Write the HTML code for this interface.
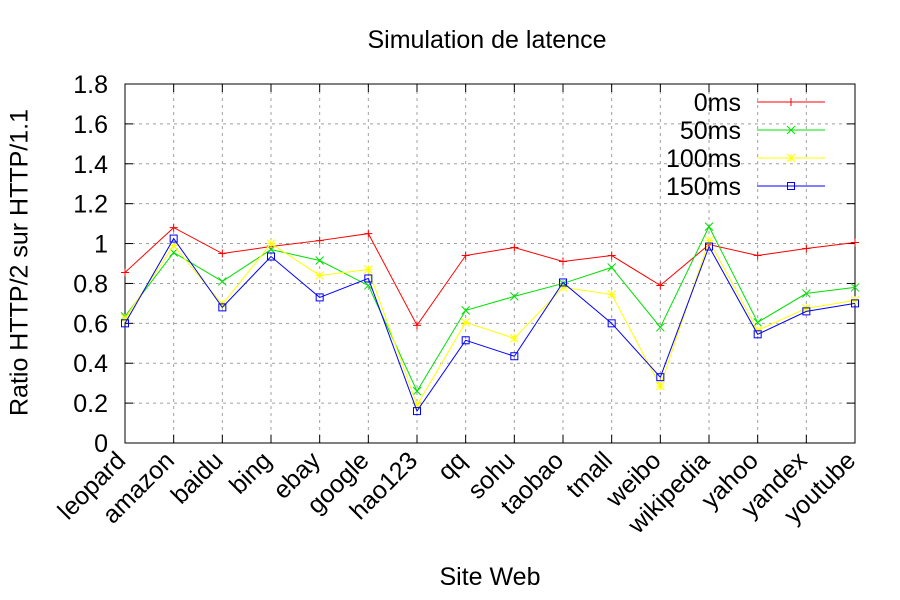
<!DOCTYPE html>
<html><head><meta charset="utf-8"><style>body{margin:0;background:#fff}svg{display:block;font-family:"Liberation Sans",sans-serif}</style></head>
<body>
<svg id="c" width="900" height="600"></svg>
<script>
const categories=["leopard","amazon","baidu","bing","ebay","google","hao123","qq","sohu","taobao","tmall","weibo","wikipedia","yahoo","yandex","youtube"];
const s0=[0.855,1.08,0.95,0.985,1.015,1.05,0.59,0.94,0.98,0.91,0.94,0.79,0.995,0.94,0.975,1.005];
const s50=[0.635,0.955,0.81,0.97,0.915,0.79,0.26,0.665,0.735,0.8,0.88,0.58,1.085,0.605,0.75,0.78];
const s100=[0.625,0.99,0.695,1.0,0.84,0.87,0.19,0.605,0.525,0.78,0.745,0.285,1.015,0.565,0.675,0.715];
const s150=[0.6,1.025,0.68,0.935,0.73,0.825,0.16,0.515,0.435,0.805,0.6,0.33,0.985,0.545,0.66,0.7];
const seriesNames=["0ms","50ms","100ms","150ms"];
const yTicks=["0","0.2","0.4","0.6","0.8","1","1.2","1.4","1.6","1.8"];
const NS="http://www.w3.org/2000/svg",svg=document.getElementById('c');
const L=125,R=855,T=84,B=443,ymax=1.8;
const X=i=>L+i*(R-L)/(categories.length-1);
const Y=v=>B-v/ymax*(B-T);
function el(t,a,p){const e=document.createElementNS(NS,t);for(const k in a)e.setAttribute(k,a[k]);(p||svg).appendChild(e);return e;}
yTicks.forEach(t=>{const v=parseFloat(t),y=Y(v);
 if(v>0&&v<ymax){const g=el('line',{x1:L,x2:R,y1:y,y2:y,stroke:'#a0a0a0','stroke-dasharray':'3,4'});}
 const tx=el('text',{x:108,y:y+9,'text-anchor':'end','font-size':25});tx.textContent=t;
 
 el('line',{x1:L,x2:L+8,y1:y,y2:y,stroke:'#000'});el('line',{x1:R,x2:R-8,y1:y,y2:y,stroke:'#000'});});
categories.forEach((c,i)=>{const x=X(i);
 if(i>0&&i<categories.length-1){const g=el('line',{x1:x,x2:x,y1:T,y2:B,stroke:'#a0a0a0','stroke-dasharray':'3,4'});}
 el('line',{x1:x,x2:x,y1:B,y2:B-8,stroke:'#000'});el('line',{x1:x,x2:x,y1:T,y2:T+8,stroke:'#000'});
 const tx=el('text',{x:x+2,y:462,'text-anchor':'end','font-size':25,transform:`rotate(-45 ${x+2} 462)`});tx.textContent=c;
 });
const fr=el('rect',{x:L,y:T,width:R-L,height:B-T,fill:'none',stroke:'#000'});

const colors=["#ff0000","#00e000","#ffff00","#0000ff"];
function marker(k,x,y,g){const c=colors[k],s=4;
 if(k===0){el('path',{d:`M${x-s} ${y}H${x+s}M${x} ${y-s}V${y+s}`,stroke:c,'stroke-width':1},g);}
 else if(k===1){el('path',{d:`M${x-s} ${y-s}L${x+s} ${y+s}M${x-s} ${y+s}L${x+s} ${y-s}`,stroke:c},g);}
 else if(k===2){el('path',{d:`M${x-s} ${y}H${x+s}M${x} ${y-s}V${y+s}M${x-s} ${y-s}L${x+s} ${y+s}M${x-s} ${y+s}L${x+s} ${y-s}`,stroke:c},g);}
 else {el('rect',{x:x-3.5,y:y-3.5,width:7,height:7,fill:'none',stroke:c},g);}}
[s0,s50,s100,s150].forEach((d,k)=>{
 const g=el('g',{});
 el('polyline',{points:d.map((v,i)=>X(i)+','+Y(v)).join(' '),fill:'none',stroke:colors[k],'stroke-width':1},g);
 d.forEach((v,i)=>marker(k,X(i),Y(v),g));
 const ly=102+k*28;
 const lg=el('g',{});
 const t=el('text',{x:741,y:ly+9,'text-anchor':'end','font-size':25},lg);t.textContent=seriesNames[k];
 el('line',{x1:757,x2:825,y1:ly,y2:ly,stroke:colors[k]},lg);marker(k,791,ly,lg);});
</script>
<div style="position:absolute;left:0;top:0;width:900px;height:600px;pointer-events:none;font-family:'Liberation Sans',sans-serif">
<div style="position:absolute;left:0;width:974px;top:26px;text-align:center;font-size:25px">Simulation de latence</div>
<div style="position:absolute;left:0;width:980px;top:563px;text-align:center;font-size:25px">Site Web</div>
<div style="position:absolute;left:-135px;top:248px;width:310px;text-align:center;font-size:25px;transform:rotate(-90deg)">Ratio HTTP/2 sur HTTP/1.1</div>
</div>
</body></html>
